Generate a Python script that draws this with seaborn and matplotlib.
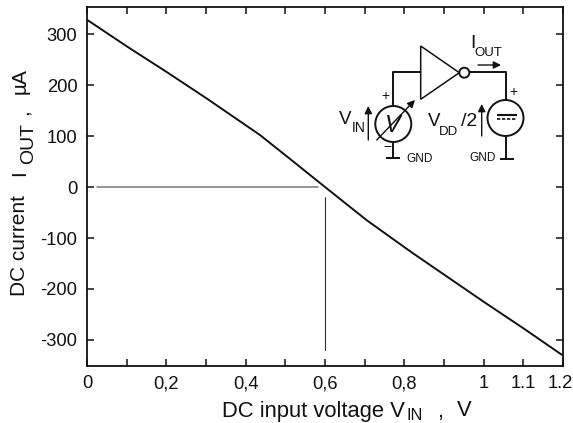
import matplotlib
matplotlib.use("Agg")
import matplotlib.pyplot as plt
from matplotlib.patches import Circle, Polygon
from matplotlib.transforms import ScaledTranslation
import seaborn as sns
import pandas as pd

# ---- data ----
vin = [0.0, 0.1, 0.2, 0.303, 0.436, 0.52, 0.6, 0.705, 0.82, 1.0, 1.1, 1.197]
iout = [328, 276, 226, 173, 102, 50, 0, -65, -129, -225, -277, -329]
guide_h_x = [0.025, 0.582]
guide_h_y = [0, 0]
guide_v_x = [0.6, 0.6]
guide_v_y = [-320, -19]
xticks = [0, 0.2, 0.4, 0.6, 0.8, 1.0, 1.1, 1.2]
xticklabels = ["0", "0,2", "0,4", "0,6", "0,8", "1", "1.1", "1.2"]
xminor = [0.1, 0.3, 0.5, 0.7, 0.9]
yticks = [-300, -200, -100, 0, 100, 200, 300]
yticklabels = ["-300", "-200", "-100", "0", "100", "200", "300"]

W, H = 573, 423
sns.set_style("ticks")
plt.rcParams["font.family"] = ["Liberation Sans", "DejaVu Sans"]

fig = plt.figure(figsize=(W / 100, H / 100), dpi=100)
ax = fig.add_axes([87 / W, 1 - 366 / H, (563 - 87) / W, (366 - 7) / H])
df = pd.DataFrame({"v": vin, "i": iout})
sns.lineplot(data=df, x="v", y="i", ax=ax, color="#111111", lw=1.4,
             estimator=None, errorbar=None)
sns.lineplot(x=guide_h_x, y=guide_h_y, ax=ax, color="#777777", lw=1.1,
             estimator=None, errorbar=None)
sns.lineplot(x=guide_v_x, y=guide_v_y, ax=ax, color="#333333", lw=0.8,
             estimator=None, sort=False, errorbar=None)
ax.set_xlim(0, 1.2)
ax.set_ylim(-351, 353)
ax.set_xticks(xticks)
ax.set_xticklabels(xticklabels)
ax.set_xticks(xminor, minor=True)
ax.set_yticks(yticks)
ax.set_yticklabels(yticklabels)
ax.set_xlabel("")
ax.set_ylabel("")
ax.tick_params(axis="both", which="both", direction="in", length=5, width=1.1,
               top=True, right=True, labelsize=13.2, colors="#111111")
ax.tick_params(axis="y", pad=7)
ax.tick_params(axis="x", pad=6.5)
for s in ax.spines.values():
    s.set_visible(True)
    s.set_linewidth(1.3)
    s.set_color("#111111")
last = ax.get_xticklabels()[-1]
last.set_transform(last.get_transform() + ScaledTranslation(-3 / 100, 0, fig.dpi_scale_trans))

# overlay in pixel coordinates for axis titles and the inset schematic
ov = fig.add_axes([0, 0, 1, 1], facecolor="none")
ov.set_xlim(0, W)
ov.set_ylim(H, 0)
ov.axis("off")
c = "#111111"

def T(x, y, s, size=14, **kw):
    kw.setdefault("ha", "left")
    kw.setdefault("va", "center")
    ov.text(x, y, s, fontsize=size, color=c, **kw)

def R(x, y, s, size=15):
    ov.text(x, y, s, fontsize=size, color=c, rotation=90, ha="center", va="center")

def L(xs, ys, lw=1.4):
    ov.plot(xs, ys, color=c, lw=lw, solid_capstyle="butt")

def A(x0, y0, x1, y1):
    ov.annotate("", xy=(x1, y1), xytext=(x0, y0),
                arrowprops=dict(arrowstyle="-|>", color=c, lw=1.0, mutation_scale=11,
                                shrinkA=0, shrinkB=0))

# x axis title
T(222, 411, "DC input voltage V", 15.8)
T(407, 416, "IN", 11.7)
T(437, 411, ",", 15.8)
T(457, 411, "V", 15.8)
# y axis title
R(20, 246, "DC current")
R(20, 173, "I")
R(29, 143, "OUT", 14)
R(22, 112, ",")
R(20, 81, "µA")

# schematic
ov.add_patch(Polygon([(420.7, 46), (420.7, 99.3), (459.3, 72.7)], closed=True,
                     fill=False, ec=c, lw=1.1))
ov.add_patch(Circle((464.3, 72.7), 5, fill=False, ec=c, lw=1.4))
L([470, 506, 506], [71.7, 71.7, 100])
L([506, 506], [137, 159])
L([500, 514], [159, 159])
ov.add_patch(Circle((505.5, 118), 18, fill=False, ec=c, lw=1.4))
L([497, 517], [115, 115], 1.5)
ov.plot([497, 517], [119, 119], color=c, lw=1.2, ls=(0, (2, 1)))
L([420.7, 393.3, 393.3], [71.7, 71.7, 107])
L([393.3, 393.3], [142, 158])
L([386, 400], [158, 158])
ov.add_patch(Circle((393.3, 124), 18, fill=False, ec=c, lw=1.4))
A(376.7, 140, 415, 100)
A(368.3, 140, 368.3, 106)
A(481.7, 136, 481.7, 104)
A(478, 65, 501, 65)
T(393, 126, "V", 17, ha="center", style="italic")
T(385, 96, "+", 10, ha="center")
T(513, 92, "+", 10, ha="center")
T(387, 147, "−", 10, ha="center")
T(470, 44, "I", 14)
T(474, 53, "OUT", 9.5)
T(339, 120, "V", 13.5)
T(352, 128, "IN", 10)
T(428, 122, "V", 13.5)
T(439, 132, "DD", 9.5)
T(461, 122, "/2", 14)
T(406, 159, "GND", 8.5)
T(469, 158, "GND", 8.5)

fig.savefig("out.png", dpi=100)
